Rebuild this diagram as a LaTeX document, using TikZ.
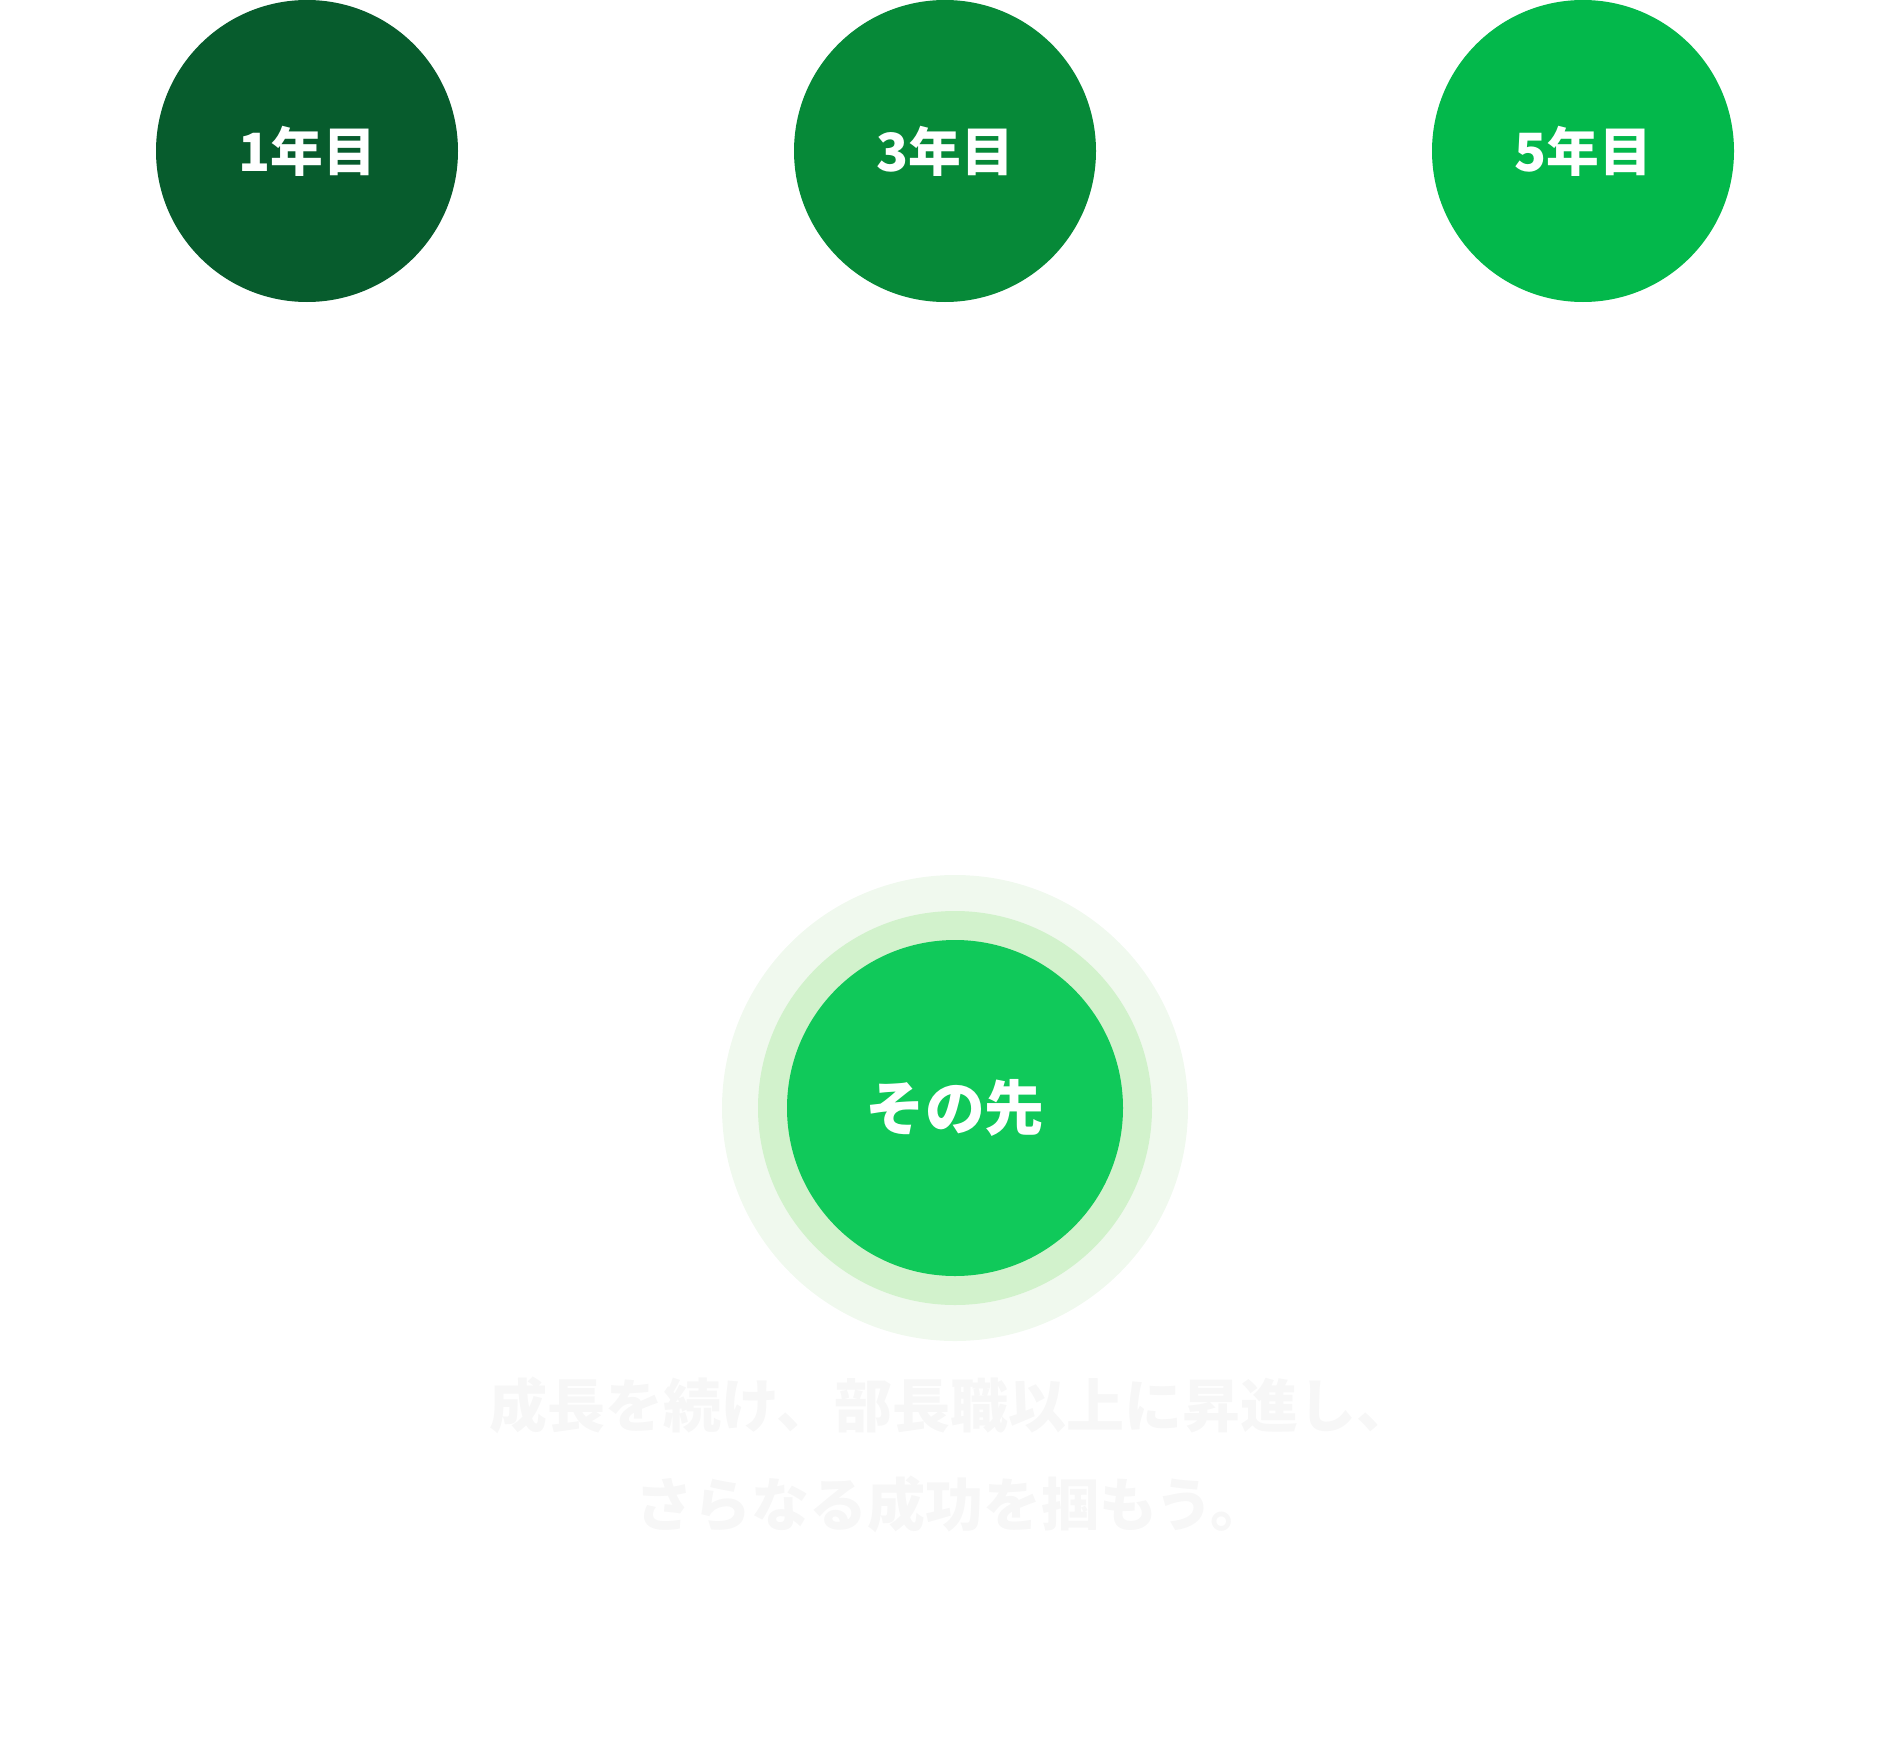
\documentclass[tikz,border=0pt]{standalone}
\usepackage{fontspec}
\newfontfamily\jpfont{Noto Sans CJK JP}
\usetikzlibrary{positioning}
\definecolor{yearone}{HTML}{075C2D}
\definecolor{yearthree}{HTML}{068938}
\definecolor{yearfive}{HTML}{03B84B}
\definecolor{future}{HTML}{10C95A}
\definecolor{ringin}{HTML}{D2F2CC}
\definecolor{ringout}{HTML}{F0F9EE}
\definecolor{faint}{HTML}{F7F7F7}

\begin{document}
\begin{tikzpicture}[x=0.02cm,y=-0.02cm]
  \tikzstyle{year}=[circle,minimum size=302*0.02cm,inner sep=0pt,text=white,font=\jpfont\bfseries\fontsize{30}{36}\selectfont]
  \useasboundingbox (0,0) rectangle (1900,1744);

  \node[year,fill=yearone]   (one)   at (307,151)  {1年目};
  \node[year,fill=yearthree] (three) at (945,151)  {3年目};
  \node[year,fill=yearfive]  (five)  at (1583,151) {5年目};

  \node[circle,fill=ringout,minimum size=466*0.02cm,inner sep=0pt] (outer) at (955,1108) {};
  \node[circle,fill=ringin,minimum size=394*0.02cm,inner sep=0pt] (ring) at (outer) {};
  \node[year,fill=future,minimum size=336*0.02cm,font=\jpfont\bfseries\fontsize{34}{40}\selectfont] (beyond) at (outer) {その先};

  \node[text=faint,align=center,font=\jpfont\bfseries\fontsize{33}{56}\selectfont] (msg) at (952,1455)
    {成長を続け、部長職以上に昇進し、\\さらなる成功を掴もう。};
\end{tikzpicture}
\end{document}
